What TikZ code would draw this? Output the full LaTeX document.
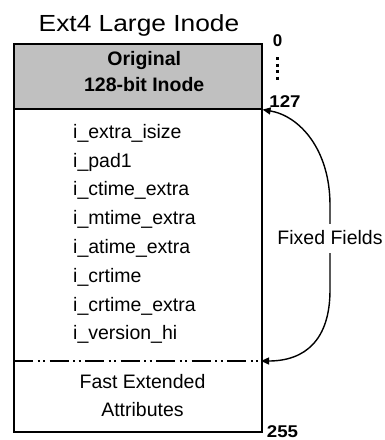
\documentclass[tikz,border=0pt]{standalone}
\usepackage{fontspec}
\usepackage{graphicx}
\setmainfont{Liberation Sans}
\usetikzlibrary{arrows.meta}
\definecolor{grayfill}{RGB}{192,192,192}
\begin{document}
\begin{tikzpicture}[x=1pt,y=-1pt,
  boxline/.style={draw=black,line width=1.6pt},
  fieldtxt/.style={anchor=base west,inner sep=0pt,font=\fontsize{19.5pt}{23pt}\selectfont},
  ctrtxt/.style={anchor=base,inner sep=0pt,font=\fontsize{19.5pt}{23pt}\selectfont},
  boldtxt/.style={anchor=base,inner sep=0pt,font=\fontsize{19.5pt}{23pt}\selectfont\bfseries},
  numtxt/.style={anchor=base,inner sep=0pt,font=\fontsize{17pt}{20pt}\selectfont\bfseries},
  arrowline/.style={line width=1.4pt,{Triangle[length=8pt,width=7pt]}-{Triangle[length=8pt,width=7pt]}}
]
\useasboundingbox (0,0) rectangle (385,440);

% title
\node[anchor=base,inner sep=0pt,font=\fontsize{23.3pt}{27pt}\selectfont] (title) at (139,31.7) {\scalebox{1.13}[1]{Ext4 Large Inode}};

% boxes
\node[boxline,fill=grayfill,minimum width=248pt,minimum height=65pt,inner sep=0pt,anchor=north west] (orig) at (13,43) {};
\node[boxline,minimum width=248pt,minimum height=323pt,inner sep=0pt,anchor=north west] (body) at (13,108) {};

\node[boldtxt] (o1) at (144.2,65.7) {Original};
\node[boldtxt] (o2) at (144.2,91.7) {128-bit Inode};

% fields
\node[fieldtxt] (f1) at (73,138.3) {i\_extra\_isize};
\node[fieldtxt] (f2) at (73,167.1) {i\_pad1};
\node[fieldtxt] (f3) at (73,195.9) {i\_ctime\_extra};
\node[fieldtxt] (f4) at (73,224.7) {i\_mtime\_extra};
\node[fieldtxt] (f5) at (73,253.5) {i\_atime\_extra};
\node[fieldtxt] (f6) at (73,282.3) {i\_crtime};
\node[fieldtxt] (f7) at (73,311.1) {i\_crtime\_extra};
\node[fieldtxt] (f8) at (73,339.9) {i\_version\_hi};

% dash-dot separator
\coordinate (sepW) at (14,361);
\coordinate (sepE) at (261,361);
\draw[line width=1.5pt,dash pattern=on 19pt off 4.5pt on 2pt off 3.5pt on 2pt off 4.5pt] (sepW) -- (sepE);

\node[ctrtxt] (fe1) at (142.5,388.3) {Fast Extended};
\node[ctrtxt] (fe2) at (142.5,416.7) {Attributes};

% offsets
\node[numtxt] (n0) at (277.7,46.7) {0};
\coordinate (dotT) at (277.7,57);
\coordinate (dotB) at (277.7,80);
\draw[line width=2.6pt,dash pattern=on 3pt off 3.5pt] (dotT) -- (dotB);
\node[numtxt] (n127) at (285,107.3) {\scalebox{1.1}[1]{127}};
\node[numtxt] (n255) at (282.5,437.5) {\scalebox{1.1}[1]{255}};

% fixed fields arrow
\coordinate (mid1) at (330,205);
\coordinate (mid2) at (330,290);
\draw[arrowline] (orig.south east) .. controls (300,116) and (330,150) .. (mid1) -- (mid2) .. controls (330,340) and (305,361) .. (sepE);
\node[fill=white,inner xsep=2pt,inner ysep=0pt,minimum height=29pt,font=\fontsize{19.5pt}{23pt}\selectfont] (ff) at (330,238) {Fixed Fields};
\end{tikzpicture}
\end{document}
